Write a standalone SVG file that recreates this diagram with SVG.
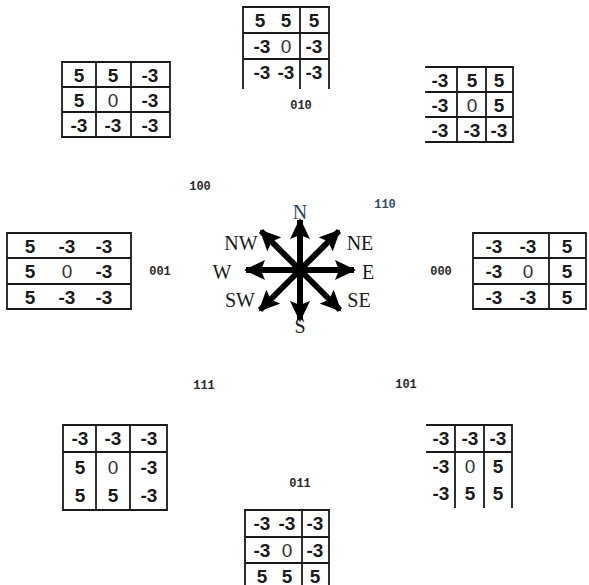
<svg xmlns="http://www.w3.org/2000/svg" width="589" height="585" viewBox="0 0 589 585">
<defs>
<style>
.g{stroke:#1a1a1a;stroke-width:1.8;fill:none;stroke-linecap:square}
.n{font-family:"Liberation Sans",Arial,sans-serif;font-size:19px;font-weight:bold;fill:#1a1a1a;text-anchor:middle;dominant-baseline:central}
.z{font-weight:normal;fill:#333}
.c{font-family:"Liberation Mono","DejaVu Sans Mono",monospace;font-size:12px;font-weight:bold;fill:#2a2a2a;text-anchor:middle;dominant-baseline:central}
.d{font-family:"Liberation Serif","Times New Roman",serif;font-size:20px;fill:#1a1a1a;text-anchor:middle;dominant-baseline:central}
.ar{stroke:#000;stroke-width:6;fill:none}
</style>
<marker id="ah" markerUnits="userSpaceOnUse" markerWidth="22" markerHeight="20" refX="19" refY="10" orient="auto">
<path d="M0,0 L21,10 L0,20 L4,10 Z" fill="#000"/>
</marker>
</defs>
<rect width="589" height="585" fill="#fff"/>

<g id="m010">
<path class="g" d="M243,7H329M243,33H329M243,59H329M243,7V88M300,7V88M329,7V88"/>
<text class="n" x="260" y="20">5</text><text class="n" x="286" y="20">5</text><text class="n" x="314" y="20">5</text>
<text class="n" x="262" y="46">-3</text><text class="n z" x="286" y="46">0</text><text class="n" x="314" y="46">-3</text>
<text class="n" x="262" y="72">-3</text><text class="n" x="286" y="72">-3</text><text class="n" x="314" y="72">-3</text>
<text class="c" x="301" y="106">010</text>
</g>

<g id="m100">
<path class="g" d="M62,62H170M62,87H170M62,112H170M62,137H170M62,62V137M96,62V137M131,62V137M170,62V137"/>
<text class="n" x="79" y="75">5</text><text class="n" x="113" y="75">5</text><text class="n" x="150" y="75">-3</text>
<text class="n" x="79" y="100">5</text><text class="n z" x="113" y="100">0</text><text class="n" x="150" y="100">-3</text>
<text class="n" x="79" y="125">-3</text><text class="n" x="113" y="125">-3</text><text class="n" x="150" y="125">-3</text>
<text class="c" x="200" y="187">100</text>
</g>

<g id="m110">
<path class="g" d="M426,67H513M426,92H513M426,117H513M426,142H513M457,67V142M486,67V142M513,67V142"/>
<text class="n" x="440" y="80">-3</text><text class="n" x="472" y="80">5</text><text class="n" x="499" y="80">5</text>
<text class="n" x="440" y="105">-3</text><text class="n z" x="472" y="105">0</text><text class="n" x="499" y="105">5</text>
<text class="n" x="440" y="130">-3</text><text class="n" x="472" y="130">-3</text><text class="n" x="499" y="130">-3</text>
<text class="c" x="385" y="205" style="fill:#2f4f6a">110</text>
</g>

<g id="m001">
<path class="g" d="M7,233H131M7,258H131M7,284H131M7,309H131M7,233V309M131,233V309"/>
<text class="n" x="30" y="246">5</text><text class="n" x="67" y="246">-3</text><text class="n" x="104" y="246">-3</text>
<text class="n" x="30" y="271">5</text><text class="n z" x="67" y="271">0</text><text class="n" x="104" y="271">-3</text>
<text class="n" x="30" y="297">5</text><text class="n" x="67" y="297">-3</text><text class="n" x="104" y="297">-3</text>
<text class="c" x="160" y="272">001</text>
</g>

<g id="m000">
<path class="g" d="M473,233H586M473,258H586M473,284H586M473,309H586M473,233V309M549,233V309M586,233V309"/>
<text class="n" x="494" y="246">-3</text><text class="n" x="528" y="246">-3</text><text class="n" x="567" y="246">5</text>
<text class="n" x="494" y="271">-3</text><text class="n z" x="528" y="271">0</text><text class="n" x="567" y="271">5</text>
<text class="n" x="494" y="297">-3</text><text class="n" x="528" y="297">-3</text><text class="n" x="567" y="297">5</text>
<text class="c" x="441" y="272">000</text>
</g>

<g id="m111">
<path class="g" d="M63,425H167M63,452H167M63,510H167M63,425V510M96,425V510M130,425V510M167,425V510"/>
<text class="n" x="80" y="438">-3</text><text class="n" x="113" y="438">-3</text><text class="n" x="149" y="438">-3</text>
<text class="n" x="80" y="467">5</text><text class="n z" x="113" y="467">0</text><text class="n" x="149" y="467">-3</text>
<text class="n" x="80" y="495">5</text><text class="n" x="113" y="495">5</text><text class="n" x="149" y="495">-3</text>
<text class="c" x="204" y="386">111</text>
</g>

<g id="m101">
<path class="g" d="M427,425H512M427,452H512M455,425V507M484,425V507M512,425V507"/>
<text class="n" x="441" y="438">-3</text><text class="n" x="470" y="438">-3</text><text class="n" x="498" y="438">-3</text>
<text class="n" x="441" y="466">-3</text><text class="n z" x="470" y="466">0</text><text class="n" x="498" y="466">5</text>
<text class="n" x="441" y="493">-3</text><text class="n" x="470" y="493">5</text><text class="n" x="498" y="493">5</text>
<text class="c" x="406" y="385">101</text>
</g>

<g id="m011">
<path class="g" d="M245,510H329M245,537H329M245,563H329M245,510V585M302,510V585M329,510V585"/>
<text class="n" x="262" y="523">-3</text><text class="n" x="287" y="523">-3</text><text class="n" x="315" y="523">-3</text>
<text class="n" x="262" y="550">-3</text><text class="n z" x="287" y="550">0</text><text class="n" x="315" y="550">-3</text>
<text class="n" x="262" y="576">5</text><text class="n" x="287" y="576">5</text><text class="n" x="315" y="576">5</text>
<text class="c" x="300" y="484">011</text>
</g>

<g id="connectors">
<line class="ar" x1="300" y1="270" x2="300" y2="220" marker-end="url(#ah)"/>
<line class="ar" x1="300" y1="270" x2="300" y2="320" marker-end="url(#ah)"/>
<line class="ar" x1="300" y1="270" x2="354" y2="270" marker-end="url(#ah)"/>
<line class="ar" x1="300" y1="270" x2="246" y2="270" marker-end="url(#ah)"/>
<line class="ar" x1="300" y1="270" x2="339" y2="231" marker-end="url(#ah)"/>
<line class="ar" x1="300" y1="270" x2="261" y2="231" marker-end="url(#ah)"/>
<line class="ar" x1="300" y1="270" x2="340" y2="310" marker-end="url(#ah)"/>
<line class="ar" x1="300" y1="270" x2="260" y2="310" marker-end="url(#ah)"/>
</g>

<g id="compass-labels">
<text class="d" x="300" y="212" style="fill:#2a4866">N</text>
<text class="d" x="241" y="243">NW</text>
<text class="d" x="360" y="243">NE</text>
<text class="d" x="222" y="272">W</text>
<text class="d" x="368" y="272">E</text>
<text class="d" x="240" y="300">SW</text>
<text class="d" x="359" y="300">SE</text>
<text class="d" x="300" y="326">S</text>
</g>
</svg>
